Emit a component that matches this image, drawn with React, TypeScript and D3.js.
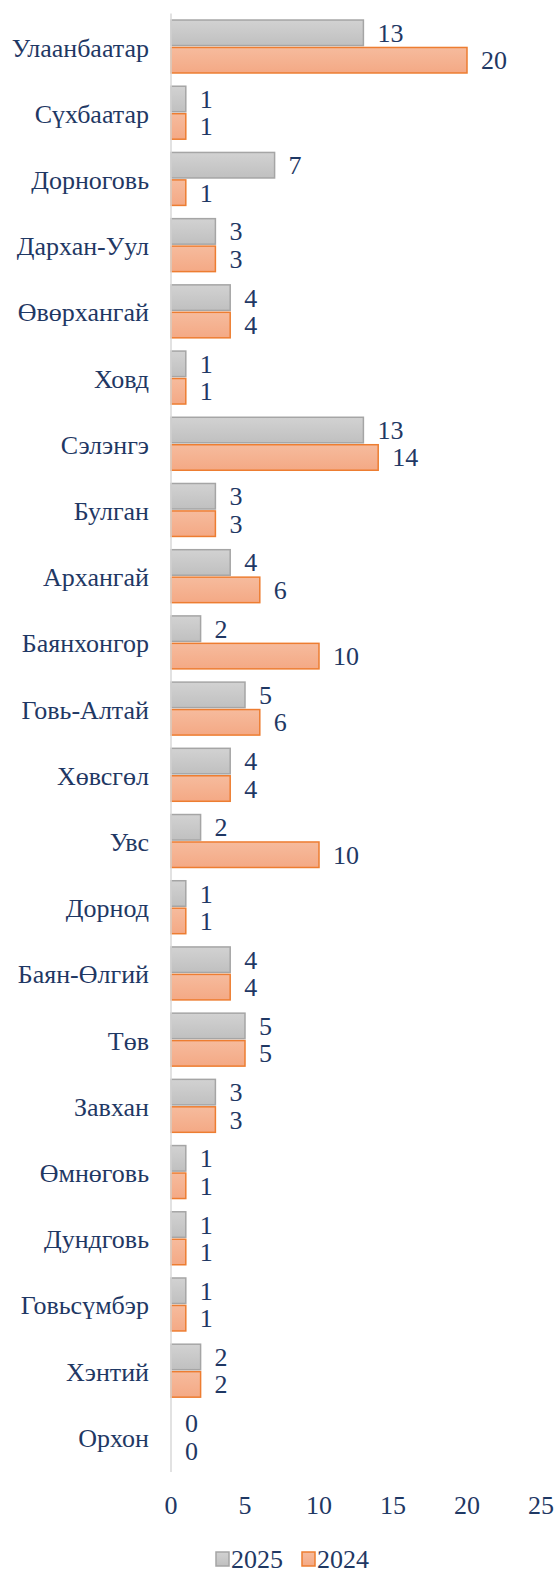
import React from "react"
import * as d3 from "d3"

const categories = [
  "Улаанбаатар",
  "Сүхбаатар",
  "Дорноговь",
  "Дархан-Уул",
  "Өвөрхангай",
  "Ховд",
  "Сэлэнгэ",
  "Булган",
  "Архангай",
  "Баянхонгор",
  "Говь-Алтай",
  "Хөвсгөл",
  "Увс",
  "Дорнод",
  "Баян-Өлгий",
  "Төв",
  "Завхан",
  "Өмнөговь",
  "Дундговь",
  "Говьсүмбэр",
  "Хэнтий",
  "Орхон"
]
const values2025 = [13, 1, 7, 3, 4, 1, 13, 3, 4, 2, 5, 4, 2, 1, 4, 5, 3, 1, 1, 1, 2, 0]
const values2024 = [20, 1, 1, 3, 4, 1, 14, 3, 6, 10, 6, 4, 10, 1, 4, 5, 3, 1, 1, 1, 2, 0]
const seriesNames = ["2025", "2024"]
const xTicks = [0, 5, 10, 15, 20, 25]

const W = 557
const H = 1573
const left = 171
const right = 541
const plotTop = 13.4
const plotBottom = 1470
const textColor = "#1f3864"
const FONT = "\"Times New Roman\", \"Liberation Serif\", serif"

const Label = ( { x, y, anchor = "start", size = 26, children } ) => (
  <text x={x} y={y} textAnchor={anchor} fill={textColor} style={{ fontFamily: FONT, fontSize: size }}>
    {children}
  </text>
)

export default function App() {
  const x = d3.scaleLinear().domain( [ 0, 25 ] ).range( [ left, right ] )
  const y = d3
    .scaleBand()
    .domain( categories )
    .range( [ plotTop, plotBottom ] )
    .paddingInner( 0.2 )
    .paddingOuter( 0.1 )
  const inner = d3
    .scaleBand()
    .domain( seriesNames )
    .range( [ 0, y.bandwidth() ] )
    .paddingInner( 0.07 )

  const series = [
    { name: "2025", values: values2025, fill: "url(#gGray)", stroke: "#a5a5a5" },
    { name: "2024", values: values2024, fill: "url(#gOrange)", stroke: "#ed7d31" }
  ]

  return (
    <svg width={W} height={H} style={{ position: "absolute", left: 0, top: 0 }}>
      <defs>
        <linearGradient id="gGray" x1="0" y1="0" x2="0" y2="1">
          <stop offset="0" stopColor="#d2d2d2" />
          <stop offset="1" stopColor="#c0c0c0" />
        </linearGradient>
        <linearGradient id="gOrange" x1="0" y1="0" x2="0" y2="1">
          <stop offset="0" stopColor="#f6bb9d" />
          <stop offset="1" stopColor="#f4a985" />
        </linearGradient>
      </defs>

      {series.map( s =>
        s.values.map( ( v, i ) => {
          const by = y( categories[ i ] ) + inner( s.name )
          const bh = inner.bandwidth()
          return (
            <g key={s.name + i}>
              {v > 0 && (
                <rect
                  x={x( 0 )}
                  y={by}
                  width={x( v ) - x( 0 )}
                  height={bh}
                  fill={s.fill}
                  stroke={s.stroke}
                  strokeWidth={1.5}
                />
              )}
              <Label x={x( v ) + 14} y={by + bh / 2 + 9}>
                {v}
              </Label>
            </g>
          )
        } )
      )}

      <line x1={left} x2={left} y1={plotTop} y2={plotBottom + 2} stroke="#d9d9d9" strokeWidth={1.5} />

      {categories.map( c => (
        <Label key={c} x={149} y={y( c ) + y.bandwidth() / 2 + 10} anchor="end">
          {c}
        </Label>
      ) )}

      {xTicks.map( t => (
        <Label key={t} x={x( t )} y={1514} anchor="middle">
          {t}
        </Label>
      ) )}

      <rect x={216} y={1552} width={13} height={14} fill="url(#gGray)" stroke="#a5a5a5" strokeWidth={1.5} />
      <Label x={231} y={1568}>{seriesNames[ 0 ]}</Label>
      <rect x={302} y={1552} width={13} height={14} fill="url(#gOrange)" stroke="#ed7d31" strokeWidth={1.5} />
      <Label x={317} y={1568}>{seriesNames[ 1 ]}</Label>
    </svg>
  )
}
